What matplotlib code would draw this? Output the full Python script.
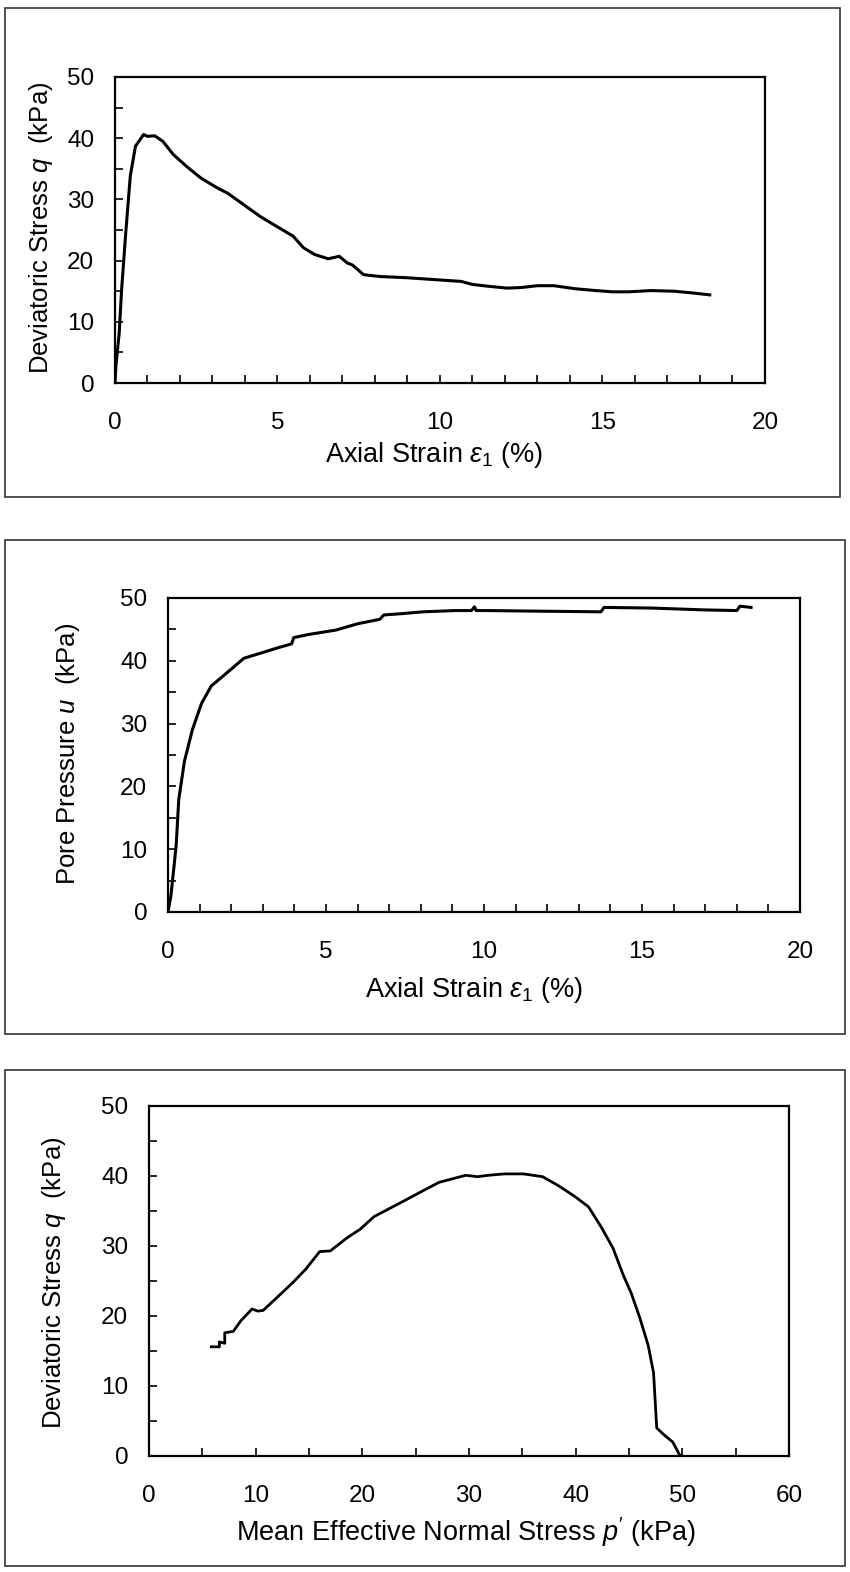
import numpy as np
import matplotlib
matplotlib.use("Agg")
from matplotlib import pyplot as plt
from matplotlib.ticker import MultipleLocator
from matplotlib.patches import Rectangle

# stress-strain curve (panel 1)
strain_q = [0, 0.03, 0.06, 0.13, 0.2, 0.33, 0.47, 0.63, 0.88, 1.0, 1.22, 1.47, 1.8, 2.2,
            2.64, 3.14, 3.47, 3.97, 4.47, 4.97, 5.48, 5.8, 6.14, 6.56, 6.9, 7.15, 7.3,
            7.65, 8.15, 8.98, 9.82, 10.65, 11.0, 11.5, 12.07, 12.5, 13.0, 13.5, 14.16,
            14.8, 15.3, 15.8, 16.5, 17.2, 17.8, 18.3]
q_1 = [0, 3.0, 4.5, 8.2, 15.0, 24.5, 33.8, 38.7, 40.6, 40.3, 40.4, 39.5, 37.3, 35.4,
       33.5, 31.9, 31.0, 29.1, 27.2, 25.6, 24.0, 22.1, 21.0, 20.3, 20.7, 19.6, 19.3,
       17.7, 17.4, 17.2, 16.9, 16.6, 16.1, 15.8, 15.5, 15.6, 15.9, 15.9, 15.4,
       15.1, 14.9, 14.9, 15.1, 15.0, 14.7, 14.4]

# pore pressure curve (panel 2)
strain_u = [0, 0.09, 0.17, 0.26, 0.34, 0.52, 0.77, 1.06, 1.37, 1.89, 2.4, 2.92, 3.43,
            3.91, 3.98, 4.46, 5.32, 6.0, 6.7, 6.83, 7.38, 8.07, 9.1, 9.6, 9.7, 9.75,
            10.1, 11.8, 13.7, 13.8, 15.3, 17.0, 18.0, 18.1, 18.45]
u_2 = [0, 2.5, 6.3, 10.7, 17.9, 24.0, 29.0, 33.2, 36.0, 38.2, 40.4, 41.2, 42.0,
       42.7, 43.7, 44.2, 44.9, 45.9, 46.6, 47.3, 47.5, 47.8, 48.0, 48.0, 48.6, 48.0,
       48.0, 47.9, 47.8, 48.5, 48.4, 48.1, 48.0, 48.7, 48.5]

# effective stress path (panel 3)
p_3 = [5.85, 6.6, 6.6, 7.1, 7.1, 7.9, 8.6, 9.66, 10.2, 10.7, 11.9, 13.5, 14.7, 16.0,
       17.0, 18.6, 19.8, 21.1, 22.6, 24.1, 25.7, 27.2, 28.7, 29.7, 30.8, 31.8, 33.3,
       35.1, 36.9, 38.4, 39.9, 41.2, 42.4, 43.5, 44.5, 45.2, 46.0, 46.8, 47.3, 47.6,
       48.3, 49.1, 49.8]
q_3 = [15.6, 15.6, 16.3, 16.1, 17.6, 17.8, 19.3, 21.0, 20.7, 20.8, 22.5, 24.8, 26.7, 29.2,
       29.3, 31.2, 32.4, 34.2, 35.4, 36.6, 37.9, 39.1, 39.7, 40.1, 39.9, 40.1, 40.3,
       40.3, 39.9, 38.6, 37.1, 35.6, 32.7, 29.7, 25.7, 23.3, 19.8, 15.8, 11.9, 4.0,
       3.0, 2.0, 0.0]

plt.rcParams['font.family'] = 'Liberation Sans'
plt.rcParams['mathtext.fontset'] = 'custom'
plt.rcParams['mathtext.rm'] = 'Liberation Sans'
plt.rcParams['mathtext.it'] = 'Liberation Sans:italic'

W, H = 850, 1572
fig = plt.figure(figsize=(8.5, 15.72), dpi=100)

def px_axes(l, t, r, b):
    return fig.add_axes([l / W, 1 - b / H, (r - l) / W, (b - t) / H])

def frame(l, t, r, b):
    fig.patches.append(Rectangle((l / W, 1 - b / H), (r - l) / W, (b - t) / H,
                                 transform=fig.transFigure, fill=False,
                                 lw=1.2, ec='#333333'))

def style(ax, xmax, xmaj, xmin):
    ax.set_xlim(0, xmax)
    ax.set_ylim(0, 50)
    ax.xaxis.set_major_locator(MultipleLocator(xmaj))
    ax.xaxis.set_minor_locator(MultipleLocator(xmin))
    ax.yaxis.set_major_locator(MultipleLocator(10))
    ax.yaxis.set_minor_locator(MultipleLocator(5))
    ax.tick_params(which='both', direction='in', length=6, width=1.2,
                   top=False, right=False)
    ax.tick_params(axis='x', pad=21, labelsize=17.5)
    ax.tick_params(axis='y', pad=15, labelsize=17.5)
    for s in ax.spines.values():
        s.set_linewidth(1.6)

def labels(xlab, xx, xy, ylab, yx, yy):
    fig.text(xx / W, 1 - xy / H, xlab, ha='center', va='center', fontsize=19.5)
    fig.text(yx / W, 1 - yy / H, ylab, ha='center', va='center',
             rotation=90, fontsize=18.5)

# panel 1
frame(5, 8, 840, 497)
ax1 = px_axes(115, 77, 765, 383)
ax1.plot(strain_q, q_1, color='black', lw=2.2)
style(ax1, 20, 5, 1)
labels(r'Axial Strain $\varepsilon_{\mathit{1}}$ (%)', 434, 455,
       r'Deviatoric Stress $q$  (kPa)', 41, 228)

# panel 2
frame(5, 540, 845, 1034)
ax2 = px_axes(168, 598, 800, 912)
ax2.plot(strain_u, u_2, color='black', lw=2.2)
style(ax2, 20, 5, 1)
labels(r'Axial Strain $\varepsilon_{\mathit{1}}$ (%)', 474, 990,
       r'Pore Pressure $u$  (kPa)', 68, 754)

# panel 3
frame(5, 1070, 845, 1566)
ax3 = px_axes(149, 1106, 789, 1456)
ax3.plot(p_3, q_3, color='black', lw=2.0)
style(ax3, 60, 10, 5)
labels(r"Mean Effective Normal Stress $p'$ (kPa)", 466, 1532,
       r'Deviatoric Stress $q$  (kPa)', 54, 1283)

fig.savefig('out.png', dpi=100, facecolor='white')
